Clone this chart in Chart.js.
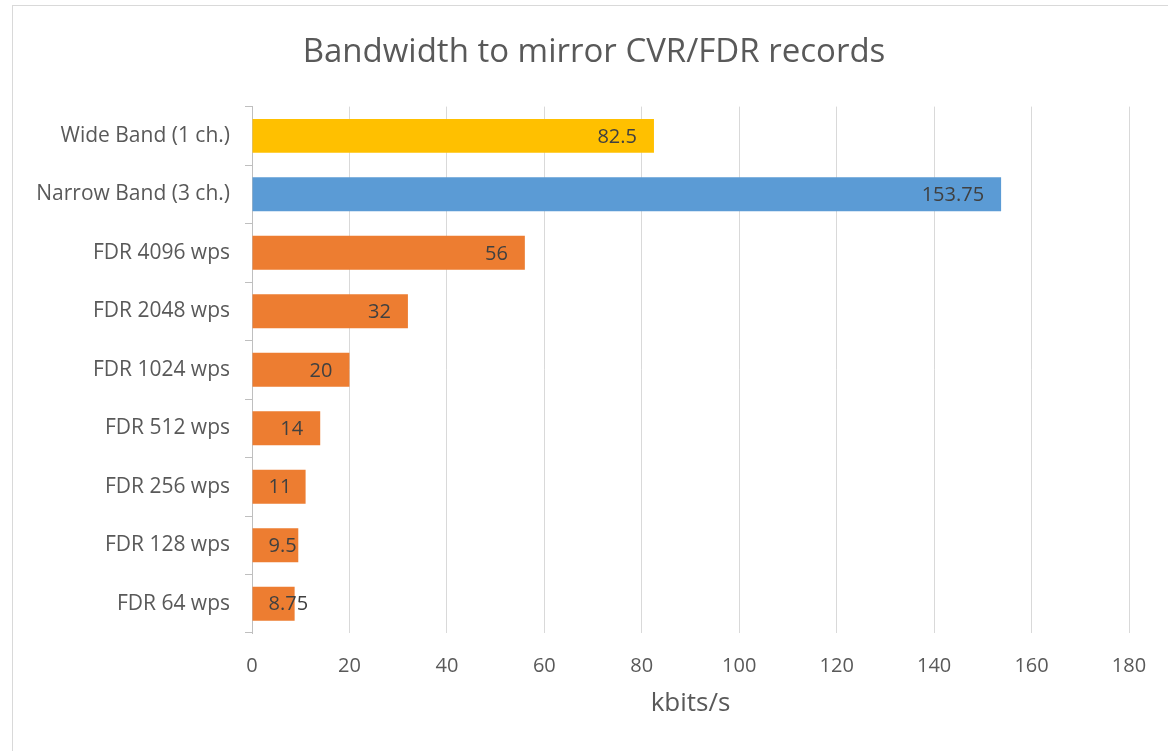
<!DOCTYPE html>
<html>
<head>
<meta charset="utf-8">
<script src="https://cdn.jsdelivr.net/npm/chart.js@4"></script>
<style>
  html, body { margin: 0; padding: 0; background: #fff; overflow: hidden; }
  #frame { position: absolute; left: 12px; top: 5px; width: 1200px; height: 800px; border: 1px solid #d9d9d9; }
  #wrap { position: absolute; left: 0; top: 0; width: 1168px; height: 751px; }
</style>
</head>
<body>
<div id="frame"></div>
<div id="wrap"><canvas id="grafico"></canvas></div>
<script>
const categorias = ['Wide Band (1 ch.)', 'Narrow Band (3 ch.)', 'FDR 4096 wps', 'FDR 2048 wps',
    'FDR 1024 wps', 'FDR 512 wps', 'FDR 256 wps', 'FDR 128 wps', 'FDR 64 wps'];
const valores = [82.5, 153.75, 56, 32, 20, 14, 11, 9.5, 8.75];
const ticksX = [0, 20, 40, 60, 80, 100, 120, 140, 160, 180];

const cores = ['#FFC000', '#5B9BD5', '#ED7D31', '#ED7D31', '#ED7D31', '#ED7D31', '#ED7D31', '#ED7D31', '#ED7D31'];
const fonte = "'Open Sans', 'Noto Sans', sans-serif";

// rotulos dentro da ponta da barra, estilo Excel
const rotulosPlugin = {
    id: 'rotulos',
    afterDatasetsDraw(chart) {
        const ctx = chart.ctx;
        const meta = chart.getDatasetMeta(0);
        ctx.save();
        ctx.font = '20px ' + fonte;
        ctx.fillStyle = '#404040';
        ctx.textAlign = 'left';
        ctx.textBaseline = 'middle';
        meta.data.forEach((bar, i) => {
            const texto = String(valores[i]);
            const w = ctx.measureText(texto).width;
            const x = Math.max(bar.x - 17 - w, bar.base + 16);
            ctx.fillText(texto, x, bar.y + 1);
        });
        ctx.restore();
    }
};

// centraliza o titulo sobre a moldura (e nao so sobre o canvas)
const tituloPlugin = {
    id: 'centroTitulo',
    afterLayout(chart) {
        const t = chart.titleBlock;
        if (t) {
            t.left = 59;
            t.right = 1129;
            t.width = t.right - t.left;
        }
    }
};

const ctx = document.getElementById('grafico').getContext('2d');
new Chart(ctx, {
    type: 'bar',
    data: {
        labels: categorias,
        datasets: [{
            data: valores,
            backgroundColor: cores,
            borderWidth: 0,
            barPercentage: 0.58,
            categoryPercentage: 1
        }]
    },
    options: {
        indexAxis: 'y',
        responsive: true,
        maintainAspectRatio: false,
        animation: false,
        layout: { padding: { left: 12, right: 39, top: 0, bottom: 0 } },
        plugins: {
            legend: { display: false },
            tooltip: { enabled: false },
            title: {
                display: true,
                text: 'Bandwidth to mirror CVR/FDR records',
                color: '#595959',
                font: { family: fonte, size: 33, weight: 'normal', lineHeight: 1.2 },
                padding: { top: 33, bottom: 34 }
            }
        },
        scales: {
            x: {
                min: 0,
                max: 180,
                afterBuildTicks(scale) {
                    scale.ticks = ticksX.map(v => ({ value: v }));
                },
                afterFit(scale) { scale.height = 118; },
                grid: { color: '#d9d9d9', lineWidth: 1, drawTicks: false },
                border: { display: false },
                ticks: { color: '#595959', padding: 21, font: { family: fonte, size: 20 } },
                title: {
                    display: true,
                    text: 'kbits/s',
                    color: '#595959',
                    font: { family: fonte, size: 26, lineHeight: 1.2 },
                    padding: { top: 0, bottom: 32 }
                }
            },
            y: {
                afterFit(scale) { scale.width = 240; },
                grid: { drawOnChartArea: false, drawTicks: true, tickLength: 7, tickColor: '#bfbfbf', offset: true },
                border: { display: true, color: '#bfbfbf' },
                ticks: { color: '#595959', padding: 15, font: { family: fonte, size: 21 } }
            }
        }
    },
    plugins: [rotulosPlugin, tituloPlugin]
});
</script>
</body>
</html>
